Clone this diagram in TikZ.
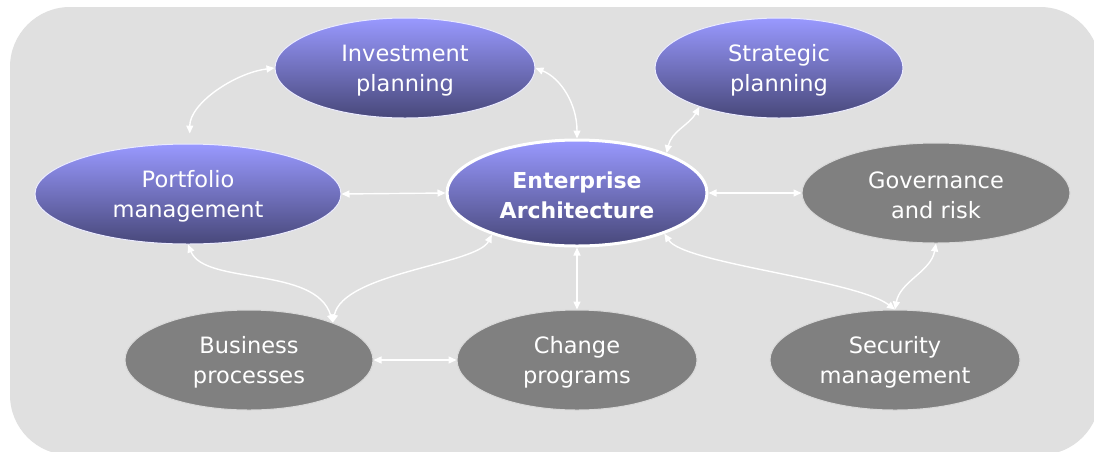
\documentclass[tikz,border=0pt]{standalone}
\usepackage{fontspec}
\setmainfont{DejaVu Sans}
\usetikzlibrary{shapes.geometric,arrows.meta}
\definecolor{bggray}{RGB}{224,224,224}
\definecolor{ntop}{RGB}{153,153,255}
\definecolor{nbot}{RGB}{72,72,122}
\definecolor{ngray}{RGB}{128,128,128}
\begin{document}
\begin{tikzpicture}[x=1pt,y=-1pt,
  base/.style={ellipse,inner sep=0pt,align=center,text=white,
    font=\fontsize{22.5}{30}\selectfont},
  bluenode/.style={base,top color=ntop,bottom color=nbot,draw=white!80!ntop,line width=1pt},
  graynode/.style={base,fill=ngray,draw=white!70!ngray,line width=1pt},
  eanode/.style={base,top color=ntop,bottom color=nbot,draw=white,line width=3pt,
    font=\fontsize{22}{30}\selectfont\bfseries},
  link/.style={draw=white,line width=1.4pt,
    {Triangle[length=8pt,width=7pt]}-{Triangle[length=8pt,width=7pt]}}]
\useasboundingbox (0,0) rectangle (1094,451);
\fill[white] (0,0) rectangle (1094,451);
\fill[bggray,rounded corners=60pt] (10,7) rectangle (1100,455);

\node[bluenode,minimum width=260,minimum height=100] (inv) at (405,68) {\strut Investment\\planning};
\node[bluenode,minimum width=248,minimum height=100] (strat) at (779,68) {\strut Strategic\\planning};
\node[bluenode,minimum width=306,minimum height=100] (port) at (188,194) {\strut Portfolio\\management};
\node[eanode,minimum width=260,minimum height=106] (ea) at (577,193) {\strut Enterprise\\Architecture};
\node[graynode,minimum width=268,minimum height=100] (gov) at (936,193) {\strut Governance\\and risk};
\node[graynode,minimum width=248,minimum height=100] (bus) at (249,360) {\strut Business\\processes};
\node[graynode,minimum width=240,minimum height=100] (chg) at (577,360) {\strut Change\\programs};
\node[graynode,minimum width=250,minimum height=100] (sec) at (895,360) {\strut Security\\management};

\draw[link,shorten <=10pt] (port.88) .. controls +(0,-40) and +(-40,5) .. (inv.west);
\draw[link] (inv.east) .. controls +(25,10) and +(0,-35) .. (ea.north);
\draw[link] (strat.-154) .. controls +(-10,18) and +(5,-22) .. (ea.24);
\draw[link] (port.east) -- (ea.west);
\draw[link] (ea.east) -- (gov.west);
\draw[link] (port.south) .. controls +(17,41) and +(-17,-57) .. (bus.24);
\draw[link] (ea.-154) .. controls +(-15,30) and +(10,-50) .. (bus.24);
\draw[link] (ea.south) -- (chg.north);
\draw[link] (bus.east) -- (chg.west);
\draw[link] (ea.-25) .. controls +(20,30) and +(-40,-30) .. (sec.north);
\draw[link] (sec.north) .. controls +(5,-28) and +(-5,28) .. (gov.south);
\end{tikzpicture}
\end{document}
